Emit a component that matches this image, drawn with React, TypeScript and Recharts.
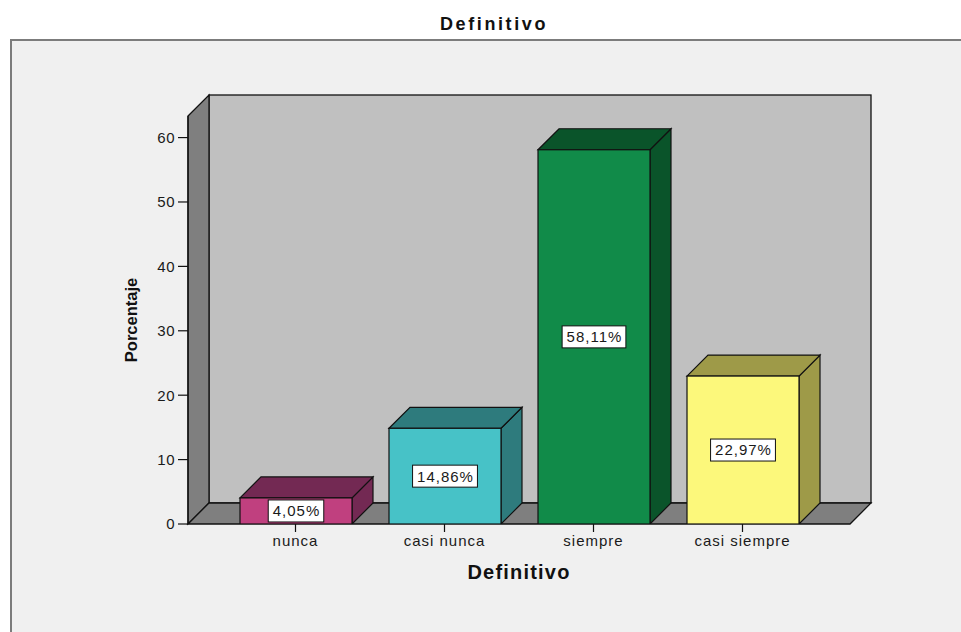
import React from 'react';
import { BarChart, Bar, XAxis, YAxis, ReferenceArea, Label } from 'recharts';

// Category labels and their percentages
const categories = ['nunca', 'casi nunca', 'siempre', 'casi siempre'];
const percentages = [4.05, 14.86, 58.11, 22.97];
const yTicks = [0, 10, 20, 30, 40, 50, 60];
const Y_MAX = 63.35;

// Face colours (front) and shaded colours (top and side) per category
const frontColors = ['#C0407F', '#47C2C7', '#118B49', '#FCF87B'];
const shadeColors = ['#732953', '#2E7B7D', '#0A542A', '#9E9A48'];

const data = categories.map((category, i) => ({ category, value: percentages[i] }));

const DEPTH = 21;
const FONT = "'Liberation Sans', Arial, sans-serif";
const TEXT = '#1a1a1a';

const fmt = (v: number) => v.toFixed(2).replace('.', ',') + '%';

let measureCtx: CanvasRenderingContext2D | null = null;
function textWidth(s: string, font: string, spacing: number): number {
  if (!measureCtx) measureCtx = document.createElement('canvas').getContext('2d');
  if (!measureCtx) return s.length * 8;
  measureCtx.font = font;
  return measureCtx.measureText(s).width + spacing * s.length;
}

// Back wall, left wall and floor of the 3D plot box
const Walls = (props: any) => {
  const { x, y, width, height } = props;
  const d = DEPTH;
  const r = x + width;
  const b = y + height;
  return (
    <g>
      <rect x={x + d} y={y - d} width={width} height={height} fill="#C0C0C0" stroke="#111" strokeWidth={1.3} />
      <polygon
        points={`${x},${y} ${x + d},${y - d} ${x + d},${b - d} ${x},${b}`}
        fill="#7F7F7F"
        stroke="#111"
        strokeWidth={1.3}
      />
      <polygon
        points={`${x},${b} ${x + d},${b - d} ${r + d},${b - d} ${r},${b}`}
        fill="#7F7F7F"
        stroke="#111"
        strokeWidth={1.3}
      />
    </g>
  );
};

// Extruded bar with its value box in the middle of the front face
const Bar3D = (props: any) => {
  const { x, y, width, height, index, payload } = props;
  const d = DEPTH;
  const r = x + width;
  const b = y + height;
  const front = frontColors[index % frontColors.length];
  const shade = shadeColors[index % shadeColors.length];
  const label = fmt(payload.value);
  const tw = textWidth(label, `15px ${FONT}`, 1);
  const bw = tw + 8;
  const bh = 22;
  const cx = x + width / 2;
  const cy = y + height / 2;
  return (
    <g>
      <polygon points={`${r},${y} ${r + d},${y - d} ${r + d},${b - d} ${r},${b}`} fill={shade} stroke="#111" strokeWidth={1.2} />
      <polygon points={`${x},${y} ${x + d},${y - d} ${r + d},${y - d} ${r},${y}`} fill={shade} stroke="#111" strokeWidth={1.2} />
      <rect x={x} y={y} width={width} height={height} fill={front} stroke="#111" strokeWidth={1.2} />
      <rect x={cx - bw / 2} y={cy - bh / 2} width={bw} height={bh} fill="#fff" stroke="#111" strokeWidth={1} />
      <text x={cx + 0.5} y={cy} dy="0.36em" textAnchor="middle" fontFamily={FONT} fontSize={15} letterSpacing={1} fill={TEXT}>
        {label}
      </text>
    </g>
  );
};

const XTick = (props: any) => {
  const { x, y, payload } = props;
  return (
    <text x={x} y={y} dy={11} textAnchor="middle" fontFamily={FONT} fontSize={15} letterSpacing={1} fill={TEXT}>
      {payload.value}
    </text>
  );
};

const YTick = (props: any) => {
  const { x, y, payload } = props;
  return (
    <text x={x} y={y} dy="0.36em" textAnchor="end" fontFamily={FONT} fontSize={15} letterSpacing={0.5} fill={TEXT}>
      {payload.value}
    </text>
  );
};

const XTitle = (props: any) => {
  const vb = props.viewBox || {};
  return (
    <text
      x={vb.x + vb.width / 2}
      y={vb.y + 54.5}
      textAnchor="middle"
      fontFamily={FONT}
      fontSize={20}
      fontWeight="bold"
      letterSpacing={1.2}
      fill="#111"
    >
      Definitivo
    </text>
  );
};

const YTitle = (props: any) => {
  const vb = props.viewBox || {};
  const tx = vb.x + 37;
  const ty = vb.y + vb.height / 2;
  return (
    <text
      x={tx}
      y={ty}
      transform={`rotate(-90 ${tx} ${ty})`}
      textAnchor="middle"
      fontFamily={FONT}
      fontSize={16.5}
      fontWeight="bold"
      fill="#111"
    >
      Porcentaje
    </text>
  );
};

export default function App() {
  return (
    <div style={{ position: 'absolute', left: 0, top: 0, width: 961, height: 632, background: '#fff', overflow: 'hidden' }}>
      <div
        style={{
          position: 'absolute',
          left: 10,
          top: 39,
          width: 980,
          height: 640,
          background: '#F0F0F0',
          borderTop: '2px solid #7c7c7c',
          borderLeft: '2px solid #7c7c7c',
        }}
      />
      <svg width={961} height={40} style={{ position: 'absolute', left: 0, top: 0 }}>
        <text x={494} y={29.5} textAnchor="middle" fontFamily={FONT} fontSize={18} fontWeight="bold" letterSpacing={2.6} fill="#111">
          Definitivo
        </text>
      </svg>
      <div style={{ position: 'absolute', left: 0, top: 0 }}>
        <BarChart width={961} height={632} data={data} margin={{ top: 116, right: 111, left: 100, bottom: 48 }}>
          <XAxis xAxisId="frame" type="number" hide />
          {/* no x bounds: the box spans the whole plot width of the unpadded axis */}
          <ReferenceArea xAxisId="frame" y1={0} y2={Y_MAX} shape={Walls} ifOverflow="visible" />
          <XAxis
            dataKey="category"
            height={60}
            padding={{ left: 33, right: 33 }}
            axisLine={false}
            tickSize={8}
            tickMargin={3}
            tickLine={{ stroke: '#111', strokeWidth: 1.2 }}
            tick={<XTick />}
            interval={0}
          >
            <Label content={<XTitle />} />
          </XAxis>
          <YAxis
            width={88}
            domain={[0, Y_MAX]}
            ticks={yTicks}
            allowDataOverflow
            tickSize={10}
            tickMargin={3}
            axisLine={{ stroke: '#111', strokeWidth: 1.3 }}
            tickLine={{ stroke: '#111', strokeWidth: 1.2 }}
            tick={<YTick />}
          >
            <Label content={<YTitle />} />
          </YAxis>
          <Bar dataKey="value" barSize={112} shape={<Bar3D />} isAnimationActive={false} />
        </BarChart>
      </div>
    </div>
  );
}
